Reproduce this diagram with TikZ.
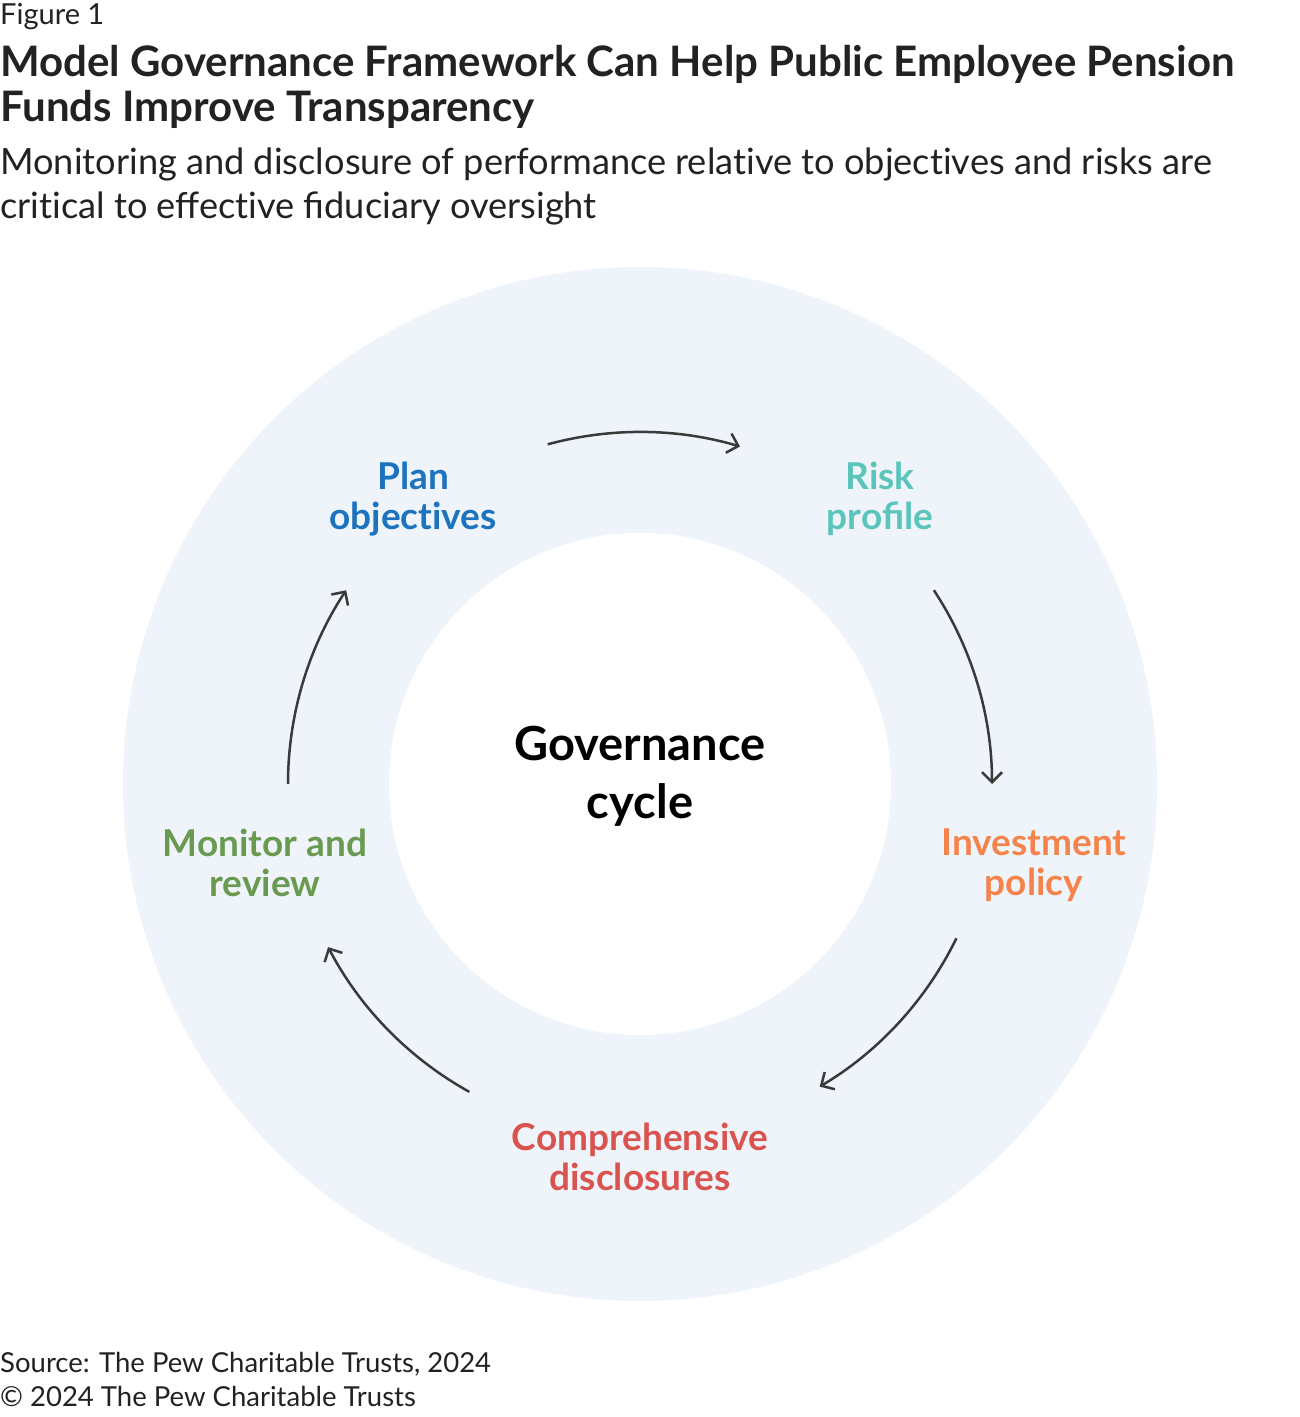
\documentclass[tikz,border=0pt]{standalone}
\usepackage{fontspec}
\setmainfont{Lato}
\usetikzlibrary{arrows.meta}
\newcommand\nolig{\kern0pt{}}
\definecolor{ringfill}{HTML}{EEF4FA}
\definecolor{cblue}{HTML}{1D73BE}
\definecolor{cteal}{HTML}{5BC5BC}
\definecolor{corange}{HTML}{F5844C}
\definecolor{cred}{HTML}{D9534F}
\definecolor{cgreen}{HTML}{6A9A50}
\definecolor{arrowgray}{HTML}{3A3A3A}
\definecolor{textdark}{HTML}{222222}
\tikzset{
  line/.style={anchor=base west, inner sep=0pt, text=textdark},
  lbl/.style={align=center, inner sep=0pt, font=\bfseries\fontsize{37}{40}\selectfont},
  cyc/.style={draw=arrowgray, line width=2.5pt, -{Straight Barb[length=10pt,width=20pt]}},
}
\begin{document}
\begin{tikzpicture}[x=1pt,y=1pt]
\useasboundingbox (0,0) rectangle (1300,1417);
\fill[white] (0,0) rectangle (1300,1417);
% header
\node[line, font=\fontsize{29}{30}\selectfont] (fig) at (0,1392) {Figure 1};
\node[line, font=\bfseries\fontsize{42}{45}\selectfont] (t1) at (0,1340) {Model Governance Framework Can Help Public Employee Pension};
\node[line, font=\bfseries\fontsize{42}{45}\selectfont] (t2) at (0,1295) {Funds Improve Transparency};
\node[line, font=\fontsize{36.2}{44}\selectfont] (s1) at (0,1242) {Monitoring and disclosure of performance relat\nolig ive to object\nolig ives and risks are};
\node[line, font=\fontsize{36.2}{44}\selectfont] (s2) at (0,1198) {crit\nolig ical to effect\nolig ive fiduciary oversight};
% ring
\coordinate (c) at (640,633);
\fill[ringfill] (c) circle[radius=517];
\fill[white] (c) circle[radius=251];
\node[align=center, inner sep=0pt, font=\bfseries\fontsize{47}{58}\selectfont, text=black] (gov) at (640,641) {Governance\\cycle};
% labels
\node[lbl, text=cblue] (plan) at (413,918) {Plan\\object\nolig ives};
\node[lbl, text=cteal] (risk) at (880,918) {Risk\\profile};
\node[lbl, text=corange] (inv) at (1034,552) {Investment\\policy};
\node[lbl, text=cred] (disc) at (640,260) {Comprehensive\\disclosures};
\node[lbl, text=cgreen] (mon) at (265,554) {Monitor and\\review};
% arrows
\coordinate (a1) at ([shift={(105.2:352)}]c);
\coordinate (a2) at ([shift={(33.4:352)}]c);
\coordinate (a3) at ([shift={(-26:352)}]c);
\coordinate (a4) at ([shift={(241:352)}]c);
\coordinate (a5) at ([shift={(180:352)}]c);
\draw[cyc] (a1) arc[start angle=105.2, end angle=73.5, radius=352];
\draw[cyc] (a2) arc[start angle=33.4, end angle=0, radius=352];
\draw[cyc] (a3) arc[start angle=-26, end angle=-59.3, radius=352];
\draw[cyc] (a4) arc[start angle=241, end angle=207.6, radius=352];
\draw[cyc] (a5) arc[start angle=180, end angle=146.6, radius=352];
% footer
\node[line, font=\fontsize{27.5}{35}\selectfont] (src) at (0,45) {Source: The Pew Charitable Trusts, 2024};
\node[line, font=\fontsize{27.5}{35}\selectfont] (cop) at (0,10) {© 2024 The Pew Charitable Trusts};
\end{tikzpicture}
\end{document}
